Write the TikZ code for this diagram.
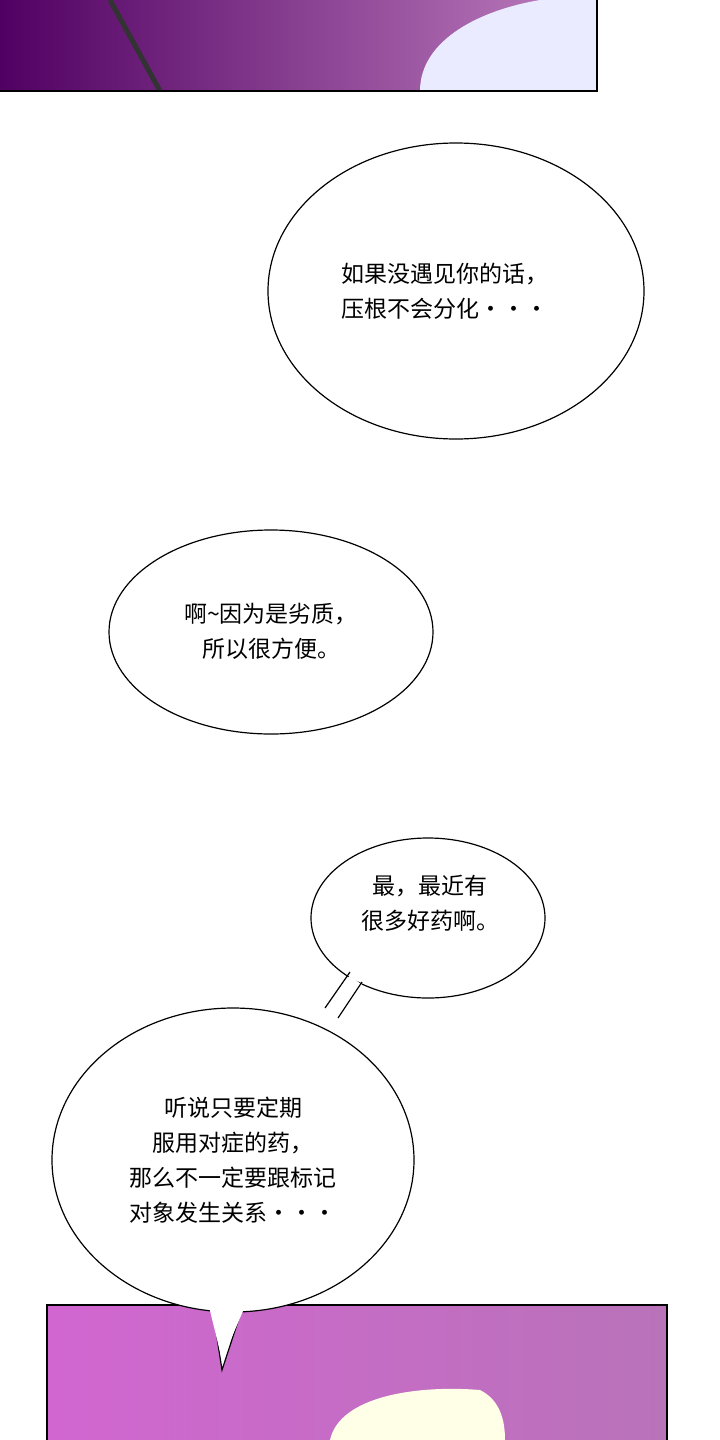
\documentclass[tikz,border=0pt]{standalone}
\usepackage{fontspec}
\usetikzlibrary{shapes.geometric}
\newfontfamily\cjk{Noto Sans CJK SC}
\begin{document}
\begin{tikzpicture}[x=1pt,y=-1pt,
  bub/.style={draw=black,line width=1.2pt,fill=white},
  txt/.style={font=\cjk\fontsize{23}{35}\selectfont,align=center}]
\useasboundingbox (0,0) rectangle (720,1440);
\fill[white] (0,0) rectangle (720,1440);
% top panel
\shade[left color=purple!60!blue!70!black,right color=violet!50] (0,0) rectangle (597,91);
\fill[blue!8!white] (420,91) .. controls (420,40) and (480,10) .. (540,0) -- (597,0) -- (597,91) -- cycle;
\draw[black!80,line width=5pt] (110,0) -- (160,91);
\draw[line width=1.2pt] (0,91) -- (597,91) -- (597,0);
% bottom panel
\shade[left color=magenta!40!violet!60,right color=violet!55] (47,1305) rectangle (667,1440);
\fill[yellow!10!white] (330,1440) .. controls (340,1395) and (420,1385) .. (480,1390) .. controls (500,1400) and (505,1420) .. (505,1440) -- cycle;
\draw[line width=1.2pt] (47,1440) -- (47,1305) -- (667,1305) -- (667,1440);
% bubble 1
\node[bub,ellipse,minimum width=376,minimum height=296] (b1) at (456,291) {};
\node[txt] (t1) at (445,291) {如果没遇见你的话，\\压根不会分化···};
% bubble 2
\node[bub,ellipse,minimum width=324,minimum height=204] (b2) at (271,632) {};
\node[txt] (t2) at (271,631) {啊\textasciitilde 因为是劣质，\\所以很方便。};
% bubble 4 with tail
\draw[bub] (233,1160) ellipse [x radius=181,y radius=152];
\draw[bub] (212,1305) -- (222,1370) -- (245,1300);
\fill[white] (205,1290) -- (222,1360) -- (252,1290) -- cycle;
% bubble 3 with tail
\draw[bub] (428,918) ellipse [x radius=117,y radius=80];
\fill[white] (325,1012) -- (350,975) -- (362,985) -- (340,1020) -- cycle;
\draw[line width=1.2pt] (325,1008) -- (350,972);
\draw[line width=1.2pt] (338,1018) -- (362,982);
\node[txt] (t3) at (430,903) {最，最近有\\很多好药啊。};
\node[txt] (t4) at (233,1160) {听说只要定期\\服用对症的药，\\那么不一定要跟标记\\对象发生关系···};
\end{tikzpicture}
\end{document}
